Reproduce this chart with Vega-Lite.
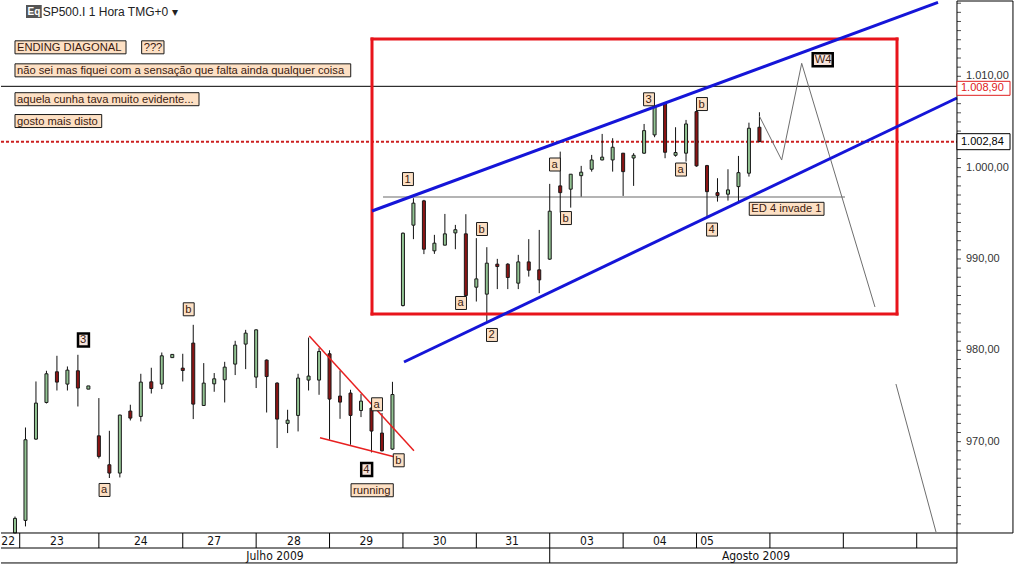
{
  "$schema": "https://vega.github.io/schema/vega-lite/v6.json",
  "width": 1015,
  "height": 564,
  "autosize": {"type": "fit", "contains": "padding"},
  "padding": -5,
  "background": "white",
  "config": {"view": {"stroke": null}, "font": "Liberation Sans"},
  "datasets": {
    "candles": [
      {"i":0,"o":960.0,"h":961.8,"l":960.0,"c":961.6},
      {"i":1,"o":961.38,"h":971.55,"l":960.72,"c":970.21},
      {"i":2,"o":970.28,"h":976.59,"l":970.2,"c":974.22},
      {"i":3,"o":974.29,"h":977.76,"l":974.18,"c":977.43},
      {"i":4,"o":977.65,"h":979.40,"l":975.60,"c":976.52},
      {"i":5,"o":976.30,"h":978.23,"l":975.60,"c":977.83},
      {"i":6,"o":977.76,"h":979.51,"l":973.85,"c":975.87},
      {"i":7,"o":975.75,"h":976.1,"l":975.75,"c":976.10},
      {"i":8,"o":970.64,"h":974.77,"l":968.16,"c":968.38},
      {"i":9,"o":967.47,"h":971.19,"l":966.02,"c":966.56},
      {"i":10,"o":966.56,"h":972.95,"l":966.08,"c":972.91},
      {"i":11,"o":973.35,"h":974.04,"l":972.32,"c":972.58},
      {"i":12,"o":972.76,"h":977.43,"l":972.21,"c":976.52},
      {"i":13,"o":976.55,"h":978.09,"l":975.27,"c":975.82},
      {"i":14,"o":976.30,"h":979.76,"l":975.76,"c":979.40},
      {"i":15,"o":979.20,"h":979.55,"l":979.20,"c":979.55},
      {"i":16,"o":978.05,"h":979.62,"l":976.59,"c":977.79},
      {"i":17,"o":980.79,"h":982.79,"l":972.47,"c":974.11},
      {"i":18,"o":973.96,"h":978.60,"l":973.96,"c":976.41},
      {"i":19,"o":976.33,"h":977.51,"l":975.46,"c":976.88},
      {"i":20,"o":976.77,"h":978.74,"l":974.29,"c":978.16},
      {"i":21,"o":978.49,"h":981.04,"l":977.29,"c":980.57},
      {"i":22,"o":980.68,"h":982.24,"l":977.94,"c":981.88},
      {"i":23,"o":977.07,"h":982.30,"l":975.87,"c":982.24},
      {"i":24,"o":978.93,"h":979.0,"l":973.19,"c":977.13},
      {"i":25,"o":976.41,"h":976.5,"l":969.30,"c":972.47},
      {"i":26,"o":972.0,"h":973.49,"l":970.94,"c":972.35},
      {"i":27,"o":972.87,"h":977.43,"l":971.12,"c":976.96},
      {"i":28,"o":976.74,"h":981.40,"l":975.60,"c":977.18},
      {"i":29,"o":976.74,"h":980.24,"l":975.13,"c":979.87},
      {"i":30,"o":979.62,"h":980.0,"l":970.21,"c":974.66},
      {"i":31,"o":974.99,"h":977.79,"l":972.50,"c":974.33},
      {"i":32,"o":975.32,"h":975.68,"l":969.66,"c":972.87},
      {"i":33,"o":973.41,"h":975.21,"l":972.69,"c":974.44},
      {"i":34,"o":973.68,"h":973.75,"l":968.82,"c":971.16},
      {"i":35,"o":970.94,"h":973.13,"l":968.93,"c":969.00},
      {"i":36,"o":969.19,"h":976.55,"l":969.1,"c":975.16},
      {"i":37,"o":984.90,"h":992.9,"l":984.8,"c":992.82},
      {"i":38,"o":993.70,"h":996.65,"l":992.17,"c":996.11},
      {"i":39,"o":996.36,"h":996.47,"l":990.53,"c":991.07},
      {"i":40,"o":990.89,"h":992.64,"l":990.56,"c":991.73},
      {"i":41,"o":991.51,"h":994.93,"l":991.5,"c":992.75},
      {"i":42,"o":992.85,"h":993.73,"l":991.07,"c":993.2},
      {"i":43,"o":992.75,"h":994.90,"l":985.95,"c":986.00},
      {"i":44,"o":986.91,"h":992.28,"l":985.34,"c":987.82},
      {"i":45,"o":986.15,"h":991.29,"l":983.15,"c":989.54},
      {"i":46,"o":989.43,"h":990.01,"l":986.70,"c":989.17},
      {"i":47,"o":989.43,"h":989.54,"l":986.70,"c":987.97},
      {"i":48,"o":987.35,"h":990.45,"l":986.70,"c":989.68},
      {"i":49,"o":989.68,"h":992.17,"l":988.07,"c":988.77},
      {"i":50,"o":988.81,"h":993.18,"l":986.26,"c":987.71},
      {"i":51,"o":989.98,"h":998.22,"l":989.9,"c":995.23},
      {"i":52,"o":998.00,"h":1001.75,"l":995.08,"c":997.26},
      {"i":53,"o":997.64,"h":999.3,"l":995.62,"c":999.28},
      {"i":54,"o":999.12,"h":1000.19,"l":996.83,"c":999.50},
      {"i":55,"o":999.82,"h":1001.39,"l":999.56,"c":1000.84},
      {"i":56,"o":1000.84,"h":1003.69,"l":1000.8,"c":1001.15},
      {"i":57,"o":1000.84,"h":1003.22,"l":999.56,"c":1002.23},
      {"i":58,"o":1001.58,"h":1001.6,"l":996.90,"c":999.56},
      {"i":59,"o":1001.05,"h":1001.58,"l":998.00,"c":1001.35},
      {"i":60,"o":1001.58,"h":1004.78,"l":1001.5,"c":1004.05},
      {"i":61,"o":1003.58,"h":1006.8,"l":1003.33,"c":1006.61},
      {"i":62,"o":1007.05,"h":1007.1,"l":1001.03,"c":1001.68},
      {"i":63,"o":1001.35,"h":1004.42,"l":1001.2,"c":1001.65},
      {"i":64,"o":1001.58,"h":1005.22,"l":1000.66,"c":1004.78},
      {"i":65,"o":1006.13,"h":1006.61,"l":1000.1,"c":1000.19},
      {"i":66,"o":1000.22,"h":1000.3,"l":994.64,"c":997.37},
      {"i":67,"o":997.26,"h":998.84,"l":996.28,"c":996.94},
      {"i":68,"o":997.09,"h":999.82,"l":996.39,"c":997.56},
      {"i":69,"o":997.92,"h":1001.28,"l":996.28,"c":999.45},
      {"i":70,"o":999.39,"h":1004.92,"l":999.02,"c":1004.31},
      {"i":71,"o":1004.42,"h":1006.06,"l":1002.8,"c":1002.84}
    ],
    "segs": [
      {"g":"grey","x":35.1,"y":996.78,"x2":79.16,"y2":996.78},
      {"g":"redbox","x":34.05,"y":1014.08,"x2":84.12,"y2":1014.08},
      {"g":"redbox","x":84.12,"y":1014.08,"x2":84.12,"y2":983.97},
      {"g":"redbox","x":84.12,"y":983.97,"x2":34.05,"y2":983.97},
      {"g":"redbox","x":34.05,"y":983.97,"x2":34.05,"y2":1014.08},
      {"g":"blue","x":34.05,"y":995.25,"x2":88.03,"y2":1018.08},
      {"g":"blue","x":37.10,"y":978.72,"x2":89.84,"y2":1007.62},
      {"g":"tri","x":28.07,"y":981.57,"x2":38.05,"y2":969.01},
      {"g":"tri","x":29.09,"y":970.43,"x2":36.24,"y2":968.32},
      {"g":"proj","x":70.99,"y":1005.65,"x2":73.12,"y2":1000.83},
      {"g":"proj","x":73.12,"y":1000.83,"x2":75.03,"y2":1011.42},
      {"g":"proj","x":75.03,"y":1011.42,"x2":82.02,"y2":984.74},
      {"g":"proj","x":84.02,"y":976.31,"x2":87.84,"y2":960.11}
    ],
    "frame": [
      {"x":-1.335,"x2":95.18,"y":960.0,"y2":960.0},
      {"x":-1.335,"x2":89.84,"y":958.357,"y2":958.357},
      {"x":-1.335,"x2":89.84,"y":956.72,"y2":956.72},
      {"x":89.84,"x2":89.84,"y":956.7,"y2":1018.24},
      {"x":95.18,"x2":95.18,"y":960.0,"y2":1018.24},
      {"x":89.84,"x2":95.18,"y":1018.24,"y2":1018.24},
      {"x":0.45,"x2":0.45,"y":960.0,"y2":958.357},
      {"x":8,"x2":8,"y":960.0,"y2":958.357},
      {"x":16,"x2":16,"y":960.0,"y2":958.357},
      {"x":23,"x2":23,"y":960.0,"y2":958.357},
      {"x":30,"x2":30,"y":960.0,"y2":958.357},
      {"x":37,"x2":37,"y":960.0,"y2":958.357},
      {"x":44,"x2":44,"y":960.0,"y2":958.357},
      {"x":51,"x2":51,"y":960.0,"y2":956.72},
      {"x":58,"x2":58,"y":960.0,"y2":958.357},
      {"x":65,"x2":65,"y":960.0,"y2":958.357},
      {"x":72,"x2":72,"y":960.0,"y2":958.357},
      {"x":79,"x2":79,"y":960.0,"y2":958.357},
      {"x":86,"x2":86,"y":960.0,"y2":958.357}
    ],
    "days": [
      {"d":"23","x":4.0},{"d":"24","x":12.0},{"d":"27","x":19.0},
      {"d":"28","x":26.6},{"d":"29","x":33.5},{"d":"30","x":40.5},{"d":"31","x":47.4},
      {"d":"03","x":54.55},{"d":"04","x":61.5},{"d":"05","x":66.0}
    ],
    "firstday": [{"d":"22","x":-1.3}],
    "months": [{"m":"Julho 2009","x":24.8},{"m":"Agosto 2009","x":70.67}],
    "levels": [
      {"price":1008.9,"kind":"line","label":"1.008,90"},
      {"price":1002.84,"kind":"last","label":"1.002,84"}
    ],
    "notes": [
      {"t":"ENDING DIAGONAL","x1":0.0,"x2":10.59,"p":1013.17,"kind":"box"},
      {"t":"???","x1":12.08,"x2":14.21,"p":1013.17,"kind":"box"},
      {"t":"não sei mas fiquei com a sensação que falta ainda qualquer coisa","x1":0.0,"x2":32.02,"p":1010.65,"kind":"box"},
      {"t":"aquela cunha tava muito evidente...","x1":0.0,"x2":17.55,"p":1007.49,"kind":"box"},
      {"t":"gosto mais disto","x1":0.0,"x2":8.27,"p":1005.10,"kind":"box"},
      {"t":"1","x1":36.96,"x2":38.00,"p":998.75,"kind":"box"},
      {"t":"a","x1":42.02,"x2":43.06,"p":985.18,"kind":"box"},
      {"t":"b","x1":44.02,"x2":45.06,"p":993.28,"kind":"box"},
      {"t":"2","x1":44.97,"x2":46.01,"p":981.68,"kind":"box"},
      {"t":"a","x1":50.98,"x2":52.02,"p":1000.34,"kind":"box"},
      {"t":"b","x1":52.03,"x2":53.07,"p":994.48,"kind":"box"},
      {"t":"3","x1":59.95,"x2":60.99,"p":1007.48,"kind":"box"},
      {"t":"a","x1":63.00,"x2":64.04,"p":999.79,"kind":"box"},
      {"t":"b","x1":65.00,"x2":66.04,"p":1006.96,"kind":"box"},
      {"t":"4","x1":65.96,"x2":67.00,"p":993.22,"kind":"box"},
      {"t":"ED 4 invade 1","x1":70.03,"x2":77.16,"p":995.49,"kind":"box"},
      {"t":"W4","x1":76.08,"x2":77.99,"p":1011.81,"kind":"thick"},
      {"t":"3","x1":6.01,"x2":7.05,"p":981.13,"kind":"thick"},
      {"t":"a","x1":8.02,"x2":9.06,"p":964.71,"kind":"box"},
      {"t":"b","x1":16.05,"x2":17.09,"p":984.49,"kind":"box"},
      {"t":"4","x1":33.02,"x2":34.06,"p":966.95,"kind":"thick"},
      {"t":"running","x1":32.05,"x2":36.08,"p":964.68,"kind":"box"},
      {"t":"a","x1":34.01,"x2":35.05,"p":974.09,"kind":"box"},
      {"t":"b","x1":36.08,"x2":37.12,"p":967.96,"kind":"box"}
    ],
    "header": [
      {"icon":"Eq","x1":1.05,"x2":2.55,"xc":1.8,"tx":2.64,"p":1017.09,"t":"SP500.I 1 Hora TMG+0 ▾"}
    ],
    "ticks": [
      {"v":961},{"v":962},{"v":963},{"v":964},{"v":965},{"v":966},{"v":967},{"v":968},{"v":969},{"v":970},
      {"v":971},{"v":972},{"v":973},{"v":974},{"v":975},{"v":976},{"v":977},{"v":978},{"v":979},{"v":980},
      {"v":981},{"v":982},{"v":983},{"v":984},{"v":985},{"v":986},{"v":987},{"v":988},{"v":989},{"v":990},
      {"v":991},{"v":992},{"v":993},{"v":994},{"v":995},{"v":996},{"v":997},{"v":998},{"v":999},{"v":1000},
      {"v":1001},{"v":1002},{"v":1003},{"v":1004},{"v":1005},{"v":1006},{"v":1007},{"v":1008},{"v":1009},{"v":1010},
      {"v":1011},{"v":1012},{"v":1013},{"v":1014},{"v":1015},{"v":1016},{"v":1017},{"v":1018}
    ],
    "ticklabels": [
      {"v":970,"t":"970,00"},{"v":980,"t":"980,00"},{"v":990,"t":"990,00"},{"v":1000,"t":"1.000,00"},{"v":1010,"t":"1.010,00"}
    ]
  },
  "layer": [
    {
      "data": {"name": "levels"},
      "transform": [{"filter": "datum.kind == 'line'"}],
      "mark": {"type": "rule", "color": "#000000", "strokeWidth": 1},
      "encoding": {
        "x": {"datum": -1.335, "type": "quantitative", "scale": {"domain": [-1.43, 95.374], "nice": false, "zero": false}, "axis": null},
        "x2": {"datum": 89.84},
        "y": {"field": "price", "type": "quantitative", "scale": {"domain": [956.606, 1018.35], "nice": false, "zero": false}, "axis": null}
      }
    },
    {
      "data": {"name": "levels"},
      "transform": [{"filter": "datum.kind == 'last'"}],
      "mark": {"type": "rule", "color": "#cc1f1f", "strokeWidth": 2, "strokeDash": [3, 2]},
      "encoding": {
        "x": {"datum": -1.335, "type": "quantitative", "scale": {"domain": [-1.43, 95.374], "nice": false, "zero": false}, "axis": null},
        "x2": {"datum": 89.84},
        "y": {"field": "price", "type": "quantitative", "scale": {"domain": [956.606, 1018.35], "nice": false, "zero": false}, "axis": null}
      }
    },
    {
      "data": {"name": "ticks"},
      "mark": {"type": "tick", "orient": "horizontal", "size": 4, "thickness": 1, "color": "#000000", "xOffset": 2},
      "encoding": {
        "x": {"datum": 89.84, "type": "quantitative", "scale": {"domain": [-1.43, 95.374], "nice": false, "zero": false}, "axis": null},
        "y": {"field": "v", "type": "quantitative", "scale": {"domain": [956.606, 1018.35], "nice": false, "zero": false}, "axis": null}
      }
    },
    {
      "data": {"name": "ticklabels"},
      "mark": {"type": "text", "align": "left", "baseline": "middle", "dx": 9, "font": "Liberation Sans", "fontSize": 11, "color": "#333333"},
      "encoding": {
        "x": {"datum": 89.84, "type": "quantitative", "scale": {"domain": [-1.43, 95.374], "nice": false, "zero": false}, "axis": null},
        "y": {"field": "v", "type": "quantitative", "scale": {"domain": [956.606, 1018.35], "nice": false, "zero": false}, "axis": null},
        "text": {"field": "t"}
      }
    },
    {
      "data": {"name": "segs"},
      "transform": [{"filter": "datum.g == 'grey'"}],
      "mark": {"type": "rule", "color": "#b4b4b4", "strokeWidth": 2},
      "encoding": {
        "x": {"field": "x", "type": "quantitative", "scale": {"domain": [-1.43, 95.374], "nice": false, "zero": false}, "axis": null},
        "x2": {"field": "x2"},
        "y": {"field": "y", "type": "quantitative", "scale": {"domain": [956.606, 1018.35], "nice": false, "zero": false}, "axis": null},
        "y2": {"field": "y2"}
      }
    },
    {
      "data": {"name": "candles"},
      "mark": {"type": "rule", "color": "#111111", "strokeWidth": 1},
      "encoding": {
        "x": {"field": "i", "type": "quantitative", "scale": {"domain": [-1.43, 95.374], "nice": false, "zero": false}, "axis": null},
        "y": {"field": "l", "type": "quantitative", "scale": {"domain": [956.606, 1018.35], "nice": false, "zero": false}, "axis": null},
        "y2": {"field": "h"}
      }
    },
    {
      "data": {"name": "candles"},
      "mark": {"type": "bar", "width": 3, "stroke": "#1a1a1a", "strokeWidth": 1, "orient": "vertical"},
      "encoding": {
        "x": {"field": "i", "type": "quantitative", "scale": {"domain": [-1.43, 95.374], "nice": false, "zero": false}, "axis": null},
        "y": {"field": "o", "type": "quantitative", "scale": {"domain": [956.606, 1018.35], "nice": false, "zero": false}, "axis": null},
        "y2": {"field": "c"},
        "color": {"condition": {"test": "datum.c >= datum.o", "value": "#93c493"}, "value": "#8b1414"}
      }
    },
    {
      "data": {"name": "segs"},
      "transform": [{"filter": "datum.g == 'redbox'"}],
      "mark": {"type": "rule", "color": "#e8141b", "strokeWidth": 3, "strokeCap": "square"},
      "encoding": {
        "x": {"field": "x", "type": "quantitative", "scale": {"domain": [-1.43, 95.374], "nice": false, "zero": false}, "axis": null},
        "x2": {"field": "x2"},
        "y": {"field": "y", "type": "quantitative", "scale": {"domain": [956.606, 1018.35], "nice": false, "zero": false}, "axis": null},
        "y2": {"field": "y2"}
      }
    },
    {
      "data": {"name": "segs"},
      "transform": [{"filter": "datum.g == 'tri'"}],
      "mark": {"type": "rule", "color": "#e82020", "strokeWidth": 1.5},
      "encoding": {
        "x": {"field": "x", "type": "quantitative", "scale": {"domain": [-1.43, 95.374], "nice": false, "zero": false}, "axis": null},
        "x2": {"field": "x2"},
        "y": {"field": "y", "type": "quantitative", "scale": {"domain": [956.606, 1018.35], "nice": false, "zero": false}, "axis": null},
        "y2": {"field": "y2"}
      }
    },
    {
      "data": {"name": "segs"},
      "transform": [{"filter": "datum.g == 'proj'"}],
      "mark": {"type": "rule", "color": "#6e6e6e", "strokeWidth": 1},
      "encoding": {
        "x": {"field": "x", "type": "quantitative", "scale": {"domain": [-1.43, 95.374], "nice": false, "zero": false}, "axis": null},
        "x2": {"field": "x2"},
        "y": {"field": "y", "type": "quantitative", "scale": {"domain": [956.606, 1018.35], "nice": false, "zero": false}, "axis": null},
        "y2": {"field": "y2"}
      }
    },
    {
      "data": {"name": "segs"},
      "transform": [{"filter": "datum.g == 'blue'"}],
      "mark": {"type": "rule", "color": "#1515d8", "strokeWidth": 3},
      "encoding": {
        "x": {"field": "x", "type": "quantitative", "scale": {"domain": [-1.43, 95.374], "nice": false, "zero": false}, "axis": null},
        "x2": {"field": "x2"},
        "y": {"field": "y", "type": "quantitative", "scale": {"domain": [956.606, 1018.35], "nice": false, "zero": false}, "axis": null},
        "y2": {"field": "y2"}
      }
    },
    {
      "data": {"name": "notes"},
      "transform": [{"filter": "datum.kind == 'box'"}],
      "mark": {"type": "bar", "orient": "horizontal", "height": 13, "fill": "#fde0c4", "stroke": "#1a1a1a", "strokeWidth": 1},
      "encoding": {
        "x": {"field": "x1", "type": "quantitative", "scale": {"domain": [-1.43, 95.374], "nice": false, "zero": false}, "axis": null},
        "x2": {"field": "x2"},
        "y": {"field": "p", "type": "quantitative", "scale": {"domain": [956.606, 1018.35], "nice": false, "zero": false}, "axis": null}
      }
    },
    {
      "data": {"name": "notes"},
      "transform": [{"filter": "datum.kind == 'thick'"}],
      "mark": {"type": "bar", "orient": "horizontal", "height": 13, "fill": "#f6e4dc", "stroke": "#000000", "strokeWidth": 2.5},
      "encoding": {
        "x": {"field": "x1", "type": "quantitative", "scale": {"domain": [-1.43, 95.374], "nice": false, "zero": false}, "axis": null},
        "x2": {"field": "x2"},
        "y": {"field": "p", "type": "quantitative", "scale": {"domain": [956.606, 1018.35], "nice": false, "zero": false}, "axis": null}
      }
    },
    {
      "data": {"name": "notes"},
      "mark": {"type": "text", "align": "left", "baseline": "middle", "dx": 2, "dy": 0.5, "font": "Liberation Sans", "fontSize": 11.2, "color": "#3a1a10"},
      "encoding": {
        "x": {"field": "x1", "type": "quantitative", "scale": {"domain": [-1.43, 95.374], "nice": false, "zero": false}, "axis": null},
        "y": {"field": "p", "type": "quantitative", "scale": {"domain": [956.606, 1018.35], "nice": false, "zero": false}, "axis": null},
        "text": {"field": "t"}
      }
    },
    {
      "data": {"name": "header"},
      "mark": {"type": "bar", "orient": "horizontal", "height": 13, "fill": "#555555"},
      "encoding": {
        "x": {"field": "x1", "type": "quantitative", "scale": {"domain": [-1.43, 95.374], "nice": false, "zero": false}, "axis": null},
        "x2": {"field": "x2"},
        "y": {"field": "p", "type": "quantitative", "scale": {"domain": [956.606, 1018.35], "nice": false, "zero": false}, "axis": null}
      }
    },
    {
      "data": {"name": "header"},
      "mark": {"type": "text", "align": "center", "baseline": "middle", "font": "Liberation Sans", "fontSize": 10, "fontWeight": "bold", "color": "#ffffff"},
      "encoding": {
        "x": {"field": "xc", "type": "quantitative", "scale": {"domain": [-1.43, 95.374], "nice": false, "zero": false}, "axis": null},
        "y": {"field": "p", "type": "quantitative", "scale": {"domain": [956.606, 1018.35], "nice": false, "zero": false}, "axis": null},
        "text": {"field": "icon"}
      }
    },
    {
      "data": {"name": "header"},
      "mark": {"type": "text", "align": "left", "baseline": "middle", "font": "Liberation Sans", "fontSize": 12, "color": "#222222"},
      "encoding": {
        "x": {"field": "tx", "type": "quantitative", "scale": {"domain": [-1.43, 95.374], "nice": false, "zero": false}, "axis": null},
        "y": {"field": "p", "type": "quantitative", "scale": {"domain": [956.606, 1018.35], "nice": false, "zero": false}, "axis": null},
        "text": {"field": "t"}
      }
    },
    {
      "data": {"name": "frame"},
      "mark": {"type": "rule", "color": "#000000", "strokeWidth": 1},
      "encoding": {
        "x": {"field": "x", "type": "quantitative", "scale": {"domain": [-1.43, 95.374], "nice": false, "zero": false}, "axis": null},
        "x2": {"field": "x2"},
        "y": {"field": "y", "type": "quantitative", "scale": {"domain": [956.606, 1018.35], "nice": false, "zero": false}, "axis": null},
        "y2": {"field": "y2"}
      }
    },
    {
      "data": {"name": "days"},
      "mark": {"type": "text", "align": "center", "baseline": "middle", "font": "Liberation Sans Narrow, DejaVu Sans Condensed, sans-serif", "fontSize": 12, "color": "#111111"},
      "encoding": {
        "x": {"field": "x", "type": "quantitative", "scale": {"domain": [-1.43, 95.374], "nice": false, "zero": false}, "axis": null},
        "y": {"datum": 959.12, "type": "quantitative", "scale": {"domain": [956.606, 1018.35], "nice": false, "zero": false}, "axis": null},
        "text": {"field": "d"}
      }
    },
    {
      "data": {"name": "firstday"},
      "mark": {"type": "text", "align": "left", "baseline": "middle", "font": "Liberation Sans Narrow, DejaVu Sans Condensed, sans-serif", "fontSize": 12, "color": "#111111"},
      "encoding": {
        "x": {"field": "x", "type": "quantitative", "scale": {"domain": [-1.43, 95.374], "nice": false, "zero": false}, "axis": null},
        "y": {"datum": 959.12, "type": "quantitative", "scale": {"domain": [956.606, 1018.35], "nice": false, "zero": false}, "axis": null},
        "text": {"field": "d"}
      }
    },
    {
      "data": {"name": "months"},
      "mark": {"type": "text", "align": "center", "baseline": "middle", "font": "Liberation Sans Narrow, DejaVu Sans Condensed, sans-serif", "fontSize": 12, "color": "#111111"},
      "encoding": {
        "x": {"field": "x", "type": "quantitative", "scale": {"domain": [-1.43, 95.374], "nice": false, "zero": false}, "axis": null},
        "y": {"datum": 957.5, "type": "quantitative", "scale": {"domain": [956.606, 1018.35], "nice": false, "zero": false}, "axis": null},
        "text": {"field": "m"}
      }
    },
    {
      "data": {"name": "levels"},
      "transform": [{"filter": "datum.kind == 'line'"}],
      "mark": {"type": "bar", "orient": "horizontal", "height": 14, "yOffset": 2, "fill": "#ffffff", "stroke": "#e02020", "strokeWidth": 1},
      "encoding": {
        "x": {"datum": 89.84, "type": "quantitative", "scale": {"domain": [-1.43, 95.374], "nice": false, "zero": false}, "axis": null},
        "x2": {"datum": 94.9},
        "y": {"field": "price", "type": "quantitative", "scale": {"domain": [956.606, 1018.35], "nice": false, "zero": false}, "axis": null}
      }
    },
    {
      "data": {"name": "levels"},
      "transform": [{"filter": "datum.kind == 'line'"}],
      "mark": {"type": "text", "align": "left", "baseline": "middle", "dx": 4, "dy": 2, "font": "Liberation Sans", "fontSize": 11, "color": "#e02020"},
      "encoding": {
        "x": {"datum": 89.84, "type": "quantitative", "scale": {"domain": [-1.43, 95.374], "nice": false, "zero": false}, "axis": null},
        "y": {"field": "price", "type": "quantitative", "scale": {"domain": [956.606, 1018.35], "nice": false, "zero": false}, "axis": null},
        "text": {"field": "label"}
      }
    },
    {
      "data": {"name": "levels"},
      "transform": [{"filter": "datum.kind == 'last'"}],
      "mark": {"type": "bar", "orient": "horizontal", "height": 16, "fill": "#ffffff", "stroke": "#000000", "strokeWidth": 1},
      "encoding": {
        "x": {"datum": 89.84, "type": "quantitative", "scale": {"domain": [-1.43, 95.374], "nice": false, "zero": false}, "axis": null},
        "x2": {"datum": 94.9},
        "y": {"field": "price", "type": "quantitative", "scale": {"domain": [956.606, 1018.35], "nice": false, "zero": false}, "axis": null}
      }
    },
    {
      "data": {"name": "levels"},
      "transform": [{"filter": "datum.kind == 'last'"}],
      "mark": {"type": "text", "align": "left", "baseline": "middle", "dx": 4, "font": "Liberation Sans", "fontSize": 11, "color": "#000000"},
      "encoding": {
        "x": {"datum": 89.84, "type": "quantitative", "scale": {"domain": [-1.43, 95.374], "nice": false, "zero": false}, "axis": null},
        "y": {"field": "price", "type": "quantitative", "scale": {"domain": [956.606, 1018.35], "nice": false, "zero": false}, "axis": null},
        "text": {"field": "label"}
      }
    }
  ]
}
